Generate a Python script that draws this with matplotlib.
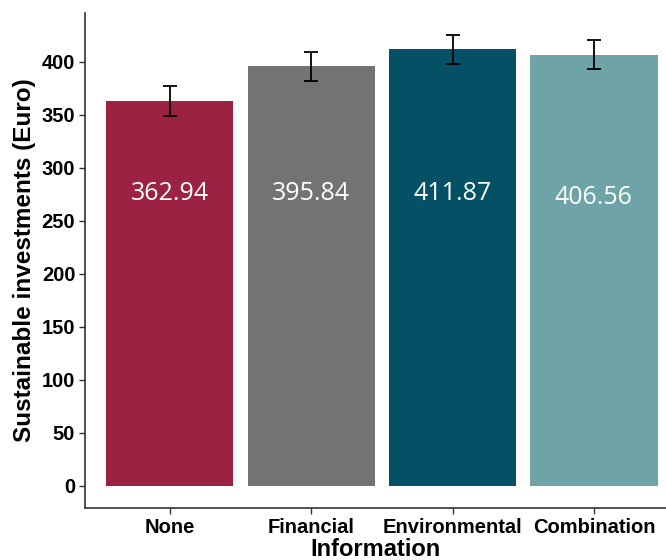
import matplotlib.pyplot as plt
import numpy as np

# mean sustainable investment per information condition
groups = ["None", "Financial", "Environmental", "Combination"]
means = [362.94, 395.84, 411.87, 406.56]
se = [14.0, 13.7, 13.7, 13.8]
colors = ["#9b2242", "#737373", "#045166", "#6ea4a8"]
label_y = [276, 276, 276, 272]

plt.rcParams['font.family'] = ['Liberation Sans', 'DejaVu Sans']

fig = plt.figure(figsize=(6.66, 5.6), dpi=100)
ax = fig.add_axes([0.1276, 0.0929, 0.8724, 0.8839])

x = np.arange(1, len(groups) + 1)
ax.bar(x, means, width=0.9, color=colors, zorder=2)
ax.errorbar(x, means, yerr=se, fmt="none", ecolor="black", elinewidth=1.3,
            capsize=5, capthick=1.3, zorder=3)

for xi, m, ly in zip(x, means, label_y):
    ax.text(xi, ly, f"{m:.2f}", ha="center", va="center", color="white",
            fontsize=18, family=["Open Sans", "DejaVu Sans"])

ax.set_xlim(0.4, 4.51)
ax.set_ylim(-20.8, 446)
ax.set_yticks(np.arange(0, 401, 50))
ax.set_xticks(x)
ax.set_xticklabels(groups)

for side in ["top", "right"]:
    ax.spines[side].set_visible(False)
for side in ["left", "bottom"]:
    ax.spines[side].set_color("#333333")
    ax.spines[side].set_linewidth(1.2)

ax.tick_params(axis="both", colors="#333333", length=4, width=1)
ax.tick_params(axis="y", pad=3)
ax.tick_params(axis="x", pad=3)
for lab in ax.get_xticklabels() + ax.get_yticklabels():
    lab.set_fontweight("bold")
    lab.set_fontsize(14.5)
    lab.set_color("black")

ax.set_xlabel("Information", fontsize=17, fontweight="bold", labelpad=1)
ax.set_ylabel("Sustainable investments (Euro)", fontsize=17.5, fontweight="bold", labelpad=4)

fig.savefig("out.png", dpi=100)
